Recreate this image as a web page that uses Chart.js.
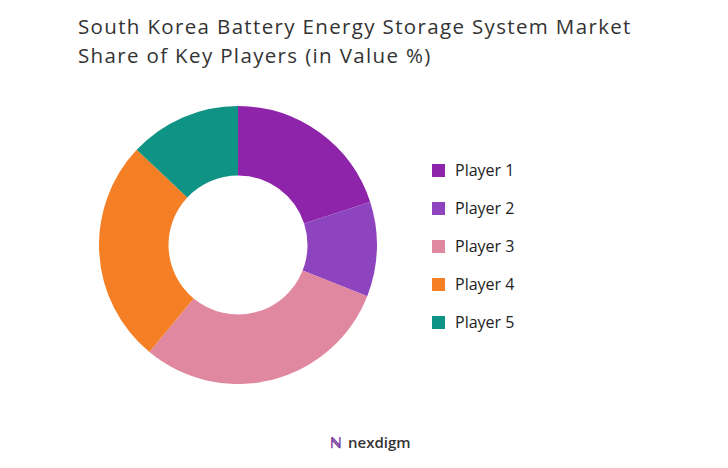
<!DOCTYPE html>
<html><head><meta charset="utf-8">
<script src="https://cdn.jsdelivr.net/npm/chart.js@4"></script>
<style>
body{margin:0;width:728px;height:468px;background:#fff;font-family:"Open Sans",sans-serif;position:relative;overflow:hidden}
#title{position:absolute;left:78px;top:12px;font-size:20.5px;line-height:29px;color:#333;letter-spacing:1.35px}
#wrap{position:absolute;left:99px;top:106px;width:278px;height:278px}
#legend{position:absolute;left:432px;top:151px;font-size:16px;color:#222}
.it{display:flex;align-items:center;height:38px}
.sw{width:13px;height:13px;margin-right:10px}
#logo{position:absolute;left:330px;top:432px;font-size:15px;color:#333;font-weight:600}
#logo span{color:#7b3fa0;font-weight:700;margin-right:6px}
</style></head><body>
<div id="title">South Korea Battery Energy Storage System Market<br>Share of Key Players (in Value %)</div>
<div id="wrap"><canvas id="c"></canvas></div>
<div id="legend"></div>
<div id="logo"><span>ℕ</span>nexdigm</div>
<script>
const labels=["Player 1","Player 2","Player 3","Player 4","Player 5"];
const values=[20,11,30,26,13];
const colors=["#8E24AA","#8E44BF","#E0889F","#F47F24","#0E9384"];
new Chart(document.getElementById('c'),{type:'doughnut',
data:{labels,datasets:[{data:values,backgroundColor:colors,borderWidth:0}]},
options:{responsive:true,maintainAspectRatio:false,animation:false,cutout:'50%',
plugins:{legend:{display:false},tooltip:{enabled:false}}}});
const lg=document.getElementById('legend');
labels.forEach((l,i)=>{lg.innerHTML+=`<div class="it"><div class="sw" style="background:${colors[i]}"></div>${l}</div>`;});
</script></body></html>
